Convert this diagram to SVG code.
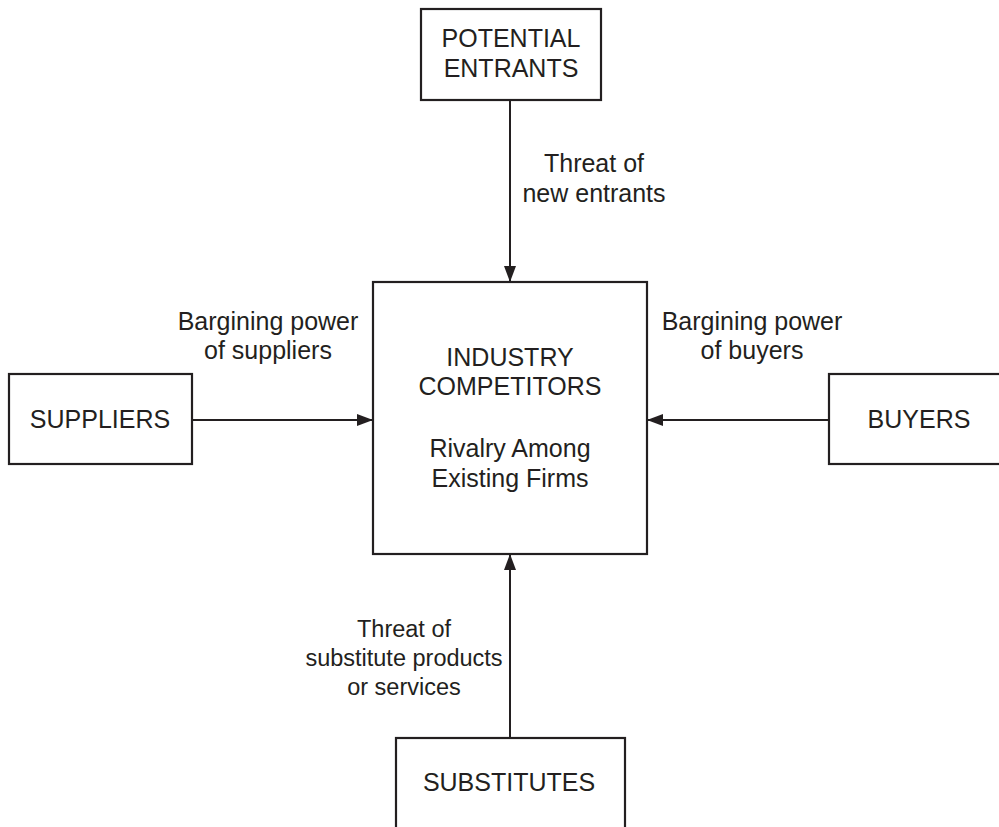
<svg xmlns="http://www.w3.org/2000/svg" width="999" height="827" viewBox="0 0 999 827">
  <style>
    .box { fill: #ffffff; stroke: #231f20; stroke-width: 2.2; }
    .link { stroke: #231f20; stroke-width: 2; fill: none; marker-end: url(#head); }
    text { font-family: "Liberation Sans", Arial, sans-serif; font-size: 25px; fill: #231f20; text-anchor: middle; }
    .small { font-size: 23.5px; }
  </style>
  <defs>
    <marker id="head" viewBox="0 0 16 12" refX="16" refY="6" markerWidth="16" markerHeight="12" markerUnits="userSpaceOnUse" orient="auto">
      <path d="M0,0 L16,6 L0,12 Z" fill="#231f20"/>
    </marker>
  </defs>
  <rect width="999" height="827" fill="#ffffff"/>

  <g id="connectors">
    <line class="link" x1="510" y1="100" x2="510" y2="282"/>
    <line class="link" x1="192" y1="420" x2="373" y2="420"/>
    <line class="link" x1="829" y1="420" x2="647" y2="420"/>
    <line class="link" x1="510" y1="738" x2="510" y2="554"/>
  </g>

  <g id="labels">
    <text x="594" y="172">Threat of</text>
    <text x="594" y="202">new entrants</text>
    <text x="268" y="330">Bargining power</text>
    <text x="268" y="359">of suppliers</text>
    <text x="752" y="330">Bargining power</text>
    <text x="752" y="359">of buyers</text>
    <text class="small" x="404" y="637">Threat of</text>
    <text class="small" x="404" y="666">substitute products</text>
    <text class="small" x="404" y="695">or services</text>
  </g>

  <g id="potential-entrants">
    <rect class="box" x="421" y="9" width="180" height="91"/>
    <text x="511" y="47">POTENTIAL</text>
    <text x="511" y="77">ENTRANTS</text>
  </g>

  <g id="industry-competitors">
    <rect class="box" x="373" y="282" width="274" height="272"/>
    <text x="510" y="366">INDUSTRY</text>
    <text x="510" y="395">COMPETITORS</text>
    <text x="510" y="457">Rivalry Among</text>
    <text x="510" y="487">Existing Firms</text>
  </g>

  <g id="suppliers">
    <rect class="box" x="9" y="374" width="183" height="90"/>
    <text x="100" y="428">SUPPLIERS</text>
  </g>

  <g id="buyers">
    <rect class="box" x="829" y="374" width="181" height="90"/>
    <text x="919" y="428">BUYERS</text>
  </g>

  <g id="substitutes">
    <rect class="box" x="396" y="738" width="229" height="100"/>
    <text x="509" y="791">SUBSTITUTES</text>
  </g>
</svg>
